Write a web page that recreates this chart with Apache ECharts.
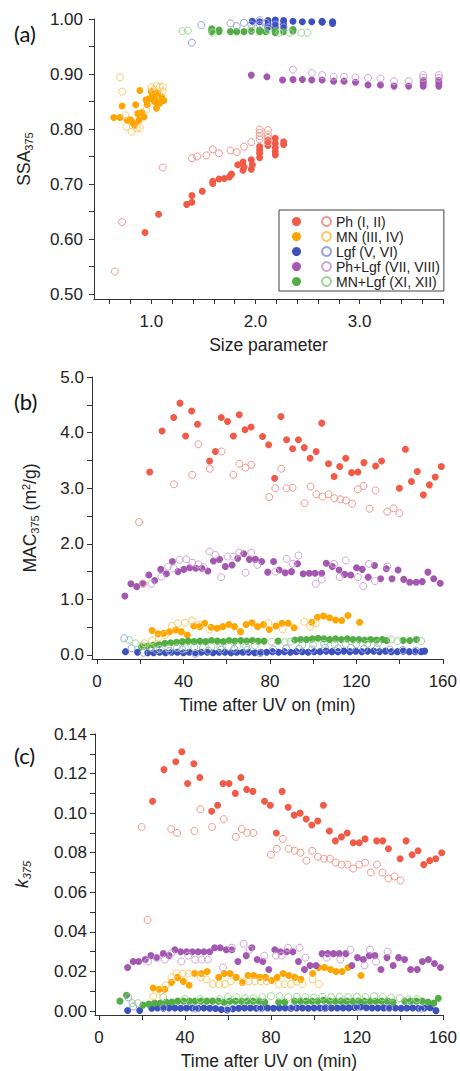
<!DOCTYPE html>
<html>
<head>
<meta charset="utf-8">
<script src="https://cdn.jsdelivr.net/npm/echarts@6.0.0/dist/echarts.min.js"></script>
<style>
  html, body { margin: 0; padding: 0; background: #fff; }
  #chart { width: 460px; height: 1071px; }
</style>
</head>
<body>
<div id="chart"></div>
<script>
// groups and colours
var groups = ['Ph (I, II)', 'MN (III, IV)', 'Lgf (V, VI)', 'Ph+Lgf (VII, VIII)', 'MN+Lgf (XI, XII)'];
var fillColors = ['#f05a46', '#ffa500', '#3c50be', '#a457b0', '#52ad45'];
var openColors = ['#f4978c', '#ffc866', '#9aa4e0', '#cfa6d6', '#9fd698'];

// (a) SSA vs size parameter  [size, SSA]
var aPhFill = [[0.94,0.612],[1.07,0.645],[1.34,0.663],[1.39,0.667],[1.39,0.679],[1.49,0.687],[1.59,0.701],[1.59,0.705],[1.65,0.709],[1.70,0.710],[1.75,0.713],[1.77,0.718],[1.83,0.735],[1.88,0.740],[1.88,0.725],[1.89,0.731],[1.96,0.744],[1.96,0.727],[1.97,0.735],[2.04,0.768],[2.04,0.756],[2.04,0.748],[2.04,0.762],[2.12,0.780],[2.12,0.776],[2.12,0.770],[2.19,0.783],[2.19,0.774],[2.19,0.766],[2.19,0.759],[2.19,0.753],[2.27,0.777],[2.27,0.772]];
var aPhOpen = [[0.65,0.541],[0.72,0.631],[1.11,0.730],[1.39,0.747],[1.44,0.750],[1.53,0.752],[1.59,0.763],[1.65,0.756],[1.76,0.761],[1.82,0.758],[1.89,0.768],[1.96,0.776],[2.04,0.799],[2.04,0.793],[2.04,0.787],[2.04,0.781],[2.12,0.798],[2.12,0.790],[2.12,0.784],[2.12,0.776]];
var aMnFill = [[0.64,0.821],[0.70,0.821],[0.72,0.842],[0.77,0.816],[0.80,0.817],[0.82,0.812],[0.84,0.807],[0.85,0.844],[0.87,0.828],[0.88,0.816],[0.89,0.870],[0.91,0.830],[0.93,0.822],[0.95,0.853],[0.96,0.844],[0.98,0.855],[1.00,0.868],[1.01,0.862],[1.03,0.857],[1.03,0.850],[1.05,0.838],[1.05,0.850],[1.06,0.866],[1.08,0.847],[1.10,0.858],[1.12,0.852]];
var aMnOpen = [[0.70,0.894],[0.72,0.868],[0.75,0.825],[0.76,0.804],[0.81,0.795],[0.86,0.801],[0.89,0.802],[0.95,0.835],[1.00,0.876],[1.02,0.871],[1.05,0.878],[1.08,0.876],[1.11,0.877],[1.11,0.868]];
var aLgfFill = [[1.97,0.996],[2.04,0.995],[2.12,0.997],[2.12,0.990],[2.12,0.985],[2.19,0.998],[2.19,0.991],[2.19,0.985],[2.27,0.997],[2.27,0.990],[2.27,0.984],[2.36,0.996],[2.45,0.995],[2.54,0.995],[2.64,0.994],[2.64,0.996],[2.74,0.995],[2.74,0.992]];
var aLgfOpen = [[1.39,0.957],[1.48,0.989],[1.76,0.992],[1.82,0.987],[1.89,0.993],[1.96,0.990],[2.04,0.998],[2.04,0.990],[2.10,0.993],[2.12,0.985],[2.19,0.990],[2.27,0.985]];
var aPhLgfFill = [[1.96,0.898],[2.11,0.895],[2.26,0.889],[2.36,0.890],[2.45,0.890],[2.54,0.889],[2.64,0.889],[2.75,0.887],[2.85,0.887],[2.96,0.885],[3.08,0.880],[3.20,0.880],[3.33,0.878],[3.47,0.878],[3.61,0.878],[3.61,0.883],[3.61,0.888],[3.76,0.878],[3.76,0.883],[3.76,0.888]];
var aPhLgfOpen = [[2.36,0.908],[2.54,0.902],[2.64,0.898],[2.75,0.895],[2.85,0.895],[2.96,0.894],[3.08,0.893],[3.20,0.892],[3.33,0.887],[3.47,0.887],[3.61,0.898],[3.61,0.893],[3.76,0.898],[3.76,0.893]];
var aMnLgfFill = [[1.58,0.982],[1.58,0.977],[1.65,0.980],[1.65,0.977],[1.76,0.977],[1.82,0.977],[1.89,0.977],[1.96,0.978],[2.04,0.977],[2.04,0.980],[2.10,0.977],[2.19,0.978],[2.19,0.975],[2.27,0.977],[2.36,0.978],[2.36,0.981]];
var aMnLgfOpen = [[1.30,0.978],[1.35,0.979],[1.59,0.975],[1.96,0.982],[2.12,0.980],[2.23,0.975],[2.33,0.975],[2.44,0.975],[2.50,0.975]];

// (b) MAC vs time  [min, m2/g]
var bPhFill = [[24.4,3.29],[30.1,4.03],[35.5,4.27],[38.4,4.53],[41.0,3.94],[43.8,4.39],[46.5,4.15],[52.1,3.49],[54.8,3.66],[57.5,4.27],[60.4,4.20],[63.1,3.94],[65.8,4.32],[68.5,4.05],[71.3,4.10],[76.6,3.93],[79.4,3.78],[82.2,3.18],[85.1,4.29],[87.7,3.87],[90.5,3.71],[93.2,3.87],[95.9,3.73],[98.6,3.54],[101.4,3.66],[104.0,4.17],[107.1,3.44],[109.7,3.21],[112.3,3.39],[115.1,3.54],[117.8,3.28],[120.7,3.29],[123.5,3.46],[128.9,3.40],[131.7,3.49],[139.9,3.00],[142.7,3.70],[145.5,3.12],[148.2,3.30],[151.0,2.88],[153.8,3.06],[156.5,3.20],[159.3,3.39]];
var bPhOpen = [[19.5,2.39],[21.4,1.28],[35.6,3.07],[44.1,3.24],[46.9,3.79],[52.2,3.35],[57.6,3.66],[63.1,3.24],[65.9,3.44],[68.7,3.37],[71.4,3.42],[79.7,2.84],[82.5,3.00],[85.3,3.35],[87.7,3.00],[90.5,3.01],[96.0,2.73],[98.8,3.03],[101.5,2.89],[104.3,2.85],[107.1,2.89],[109.8,2.82],[112.6,2.80],[115.2,2.78],[118.0,2.72],[120.7,2.98],[123.3,3.04],[126.1,2.63],[128.9,2.96],[134.3,2.58],[137.2,2.64],[139.9,2.55]];
var bMnFill = [[25.5,0.44],[28.3,0.38],[30.9,0.39],[33.6,0.42],[36.4,0.45],[39.0,0.42],[41.8,0.36],[44.8,0.52],[47.5,0.51],[49.8,0.57],[52.8,0.50],[55.6,0.48],[58.2,0.51],[61.0,0.55],[63.6,0.51],[66.4,0.42],[69.0,0.55],[71.7,0.58],[74.3,0.51],[77.0,0.55],[79.7,0.46],[82.8,0.52],[85.6,0.57],[88.5,0.57],[91.2,0.49],[99.4,0.59],[102.0,0.68],[104.8,0.70],[107.6,0.67],[110.4,0.63],[113.2,0.62],[116.1,0.71],[121.5,0.59]];
var bMnOpen = [[22.0,0.21],[25.5,0.26],[28.5,0.31],[31.5,0.36],[34.7,0.52],[37.5,0.57],[40.6,0.58],[43.9,0.62],[47.2,0.54],[52.1,0.46],[79.3,0.57],[85.9,0.46],[95.9,0.60],[98.6,0.51],[101.2,0.57]];
var bLgfFill = [[13.2,0.06],[18.8,0.05],[23.5,0.04],[26.2,0.04],[29.0,0.05],[31.7,0.04],[34.5,0.05],[37.2,0.05],[40.0,0.04],[42.7,0.05],[45.5,0.04],[48.2,0.05],[51.0,0.05],[53.7,0.04],[56.5,0.05],[59.2,0.05],[62.0,0.04],[64.7,0.05],[67.5,0.05],[70.2,0.05],[73.0,0.04],[75.7,0.05],[78.5,0.05],[81.2,0.06],[84.0,0.05],[86.7,0.06],[89.5,0.05],[92.2,0.06],[95.0,0.06],[97.7,0.05],[100.5,0.06],[103.2,0.06],[106.0,0.07],[108.7,0.06],[111.5,0.06],[114.2,0.07],[117.0,0.06],[119.7,0.07],[122.5,0.06],[125.2,0.07],[128.0,0.07],[130.7,0.06],[133.5,0.07],[136.2,0.06],[139.0,0.06],[141.7,0.07],[144.5,0.06],[147.2,0.06],[150.0,0.06],[151.6,0.07]];
var bLgfOpen = [[12.6,0.30],[16.0,0.12],[21.5,0.04],[27.5,0.09],[33.5,0.07],[39.5,0.10],[45.5,0.02],[51.5,0.08],[57.5,0.10],[63.5,0.11],[69.5,0.09],[75.5,0.03],[81.5,0.10],[87.5,0.12],[93.5,0.11],[99.5,0.10],[105.5,0.13],[111.5,0.12],[117.5,0.13],[123.5,0.11],[129.5,0.12],[135.5,0.10],[141.5,0.09],[147.5,0.08]];
var bPhLgfFill = [[12.9,1.06],[15.7,1.28],[18.4,1.23],[21.1,1.29],[24.0,1.44],[26.7,1.34],[29.5,1.54],[32.1,1.46],[34.9,1.68],[37.5,1.50],[40.2,1.54],[42.9,1.57],[45.7,1.56],[48.5,1.56],[51.3,1.51],[53.9,1.69],[56.7,1.72],[59.4,1.59],[62.5,1.62],[65.1,1.74],[67.9,1.82],[70.5,1.72],[73.3,1.72],[76.2,1.68],[79.0,1.49],[81.7,1.68],[84.3,1.53],[87.1,1.48],[90.0,1.50],[92.8,1.64],[95.4,1.46],[98.2,1.47],[100.9,1.47],[104.0,1.47],[106.1,1.65],[108.9,1.59],[112.0,1.53],[114.6,1.45],[117.4,1.44],[120.1,1.57],[122.7,1.54],[125.5,1.40],[128.4,1.61],[131.2,1.37],[133.9,1.55],[136.5,1.37],[139.3,1.53],[141.9,1.36],[144.7,1.31],[147.7,1.31],[150.5,1.32],[153.1,1.49],[155.8,1.37],[158.8,1.29]];
var bPhLgfOpen = [[25.2,1.28],[29.8,1.41],[32.9,1.59],[35.5,1.56],[38.2,1.71],[41.3,1.72],[44.1,1.66],[46.9,1.63],[49.3,1.58],[52.1,1.86],[54.8,1.80],[57.5,1.40],[60.4,1.77],[63.1,1.77],[65.8,1.84],[68.7,1.48],[71.3,1.84],[74.2,1.62],[82.5,1.50],[87.7,1.73],[90.5,1.64],[93.2,1.79],[101.2,1.28],[104.0,1.36],[109.7,1.64],[112.3,1.40],[115.1,1.70],[120.7,1.40],[123.2,1.24],[125.8,1.64],[128.6,1.33],[134.3,1.59]];
var bMnLgfFill = [[20.6,0.15],[23.3,0.16],[26.0,0.18],[28.7,0.19],[31.4,0.21],[34.1,0.22],[36.8,0.23],[39.5,0.24],[42.2,0.25],[44.9,0.24],[47.6,0.25],[50.3,0.24],[53.0,0.26],[55.7,0.25],[58.4,0.24],[61.1,0.26],[63.8,0.25],[66.5,0.26],[69.2,0.25],[71.9,0.26],[74.6,0.25],[77.3,0.25],[83.8,0.25],[91.5,0.27],[94.2,0.28],[96.9,0.28],[99.6,0.29],[102.3,0.30],[105.0,0.29],[107.7,0.28],[110.4,0.29],[113.1,0.28],[115.8,0.29],[118.5,0.28],[121.2,0.28],[123.9,0.27],[126.6,0.28],[129.3,0.27],[132.0,0.28],[134.0,0.26],[141.6,0.26],[144.7,0.26],[147.8,0.28]];
var bMnLgfOpen = [[14.9,0.27],[17.9,0.21],[21.0,0.17],[25.0,0.13],[29.0,0.11],[33.0,0.12],[37.0,0.13],[41.0,0.12],[45.0,0.14],[49.0,0.13],[53.0,0.15],[57.0,0.14],[61.0,0.15],[65.0,0.16],[69.0,0.15],[73.0,0.17],[80.7,0.24],[86.9,0.23],[89.5,0.24],[95.0,0.18],[100.0,0.19],[105.0,0.20],[110.0,0.19],[115.0,0.20],[120.0,0.19],[125.0,0.20],[130.0,0.21],[136.2,0.28],[139.0,0.25],[150.0,0.25]];

// (c) k vs time  [min, k]
var cPhFill = [[24.9,0.106],[30.2,0.122],[35.7,0.126],[38.5,0.131],[41.2,0.115],[44.1,0.125],[46.9,0.118],[52.4,0.101],[55.2,0.104],[57.7,0.115],[60.5,0.115],[63.4,0.110],[66.0,0.118],[68.7,0.112],[71.6,0.111],[77.0,0.106],[79.7,0.104],[82.5,0.090],[85.2,0.111],[88.0,0.103],[90.8,0.099],[93.6,0.100],[96.4,0.097],[99.0,0.094],[101.8,0.096],[104.4,0.104],[107.2,0.091],[110.0,0.086],[112.8,0.088],[115.5,0.090],[118.3,0.085],[121.1,0.085],[123.8,0.087],[129.2,0.086],[132.0,0.086],[134.7,0.082],[140.1,0.077],[142.9,0.086],[145.7,0.079],[148.5,0.081],[151.1,0.074],[153.9,0.076],[156.7,0.077],[159.5,0.080]];
var cPhOpen = [[19.8,0.093],[22.6,0.046],[33.6,0.092],[36.3,0.090],[44.4,0.091],[47.2,0.102],[52.6,0.093],[58.0,0.097],[63.6,0.088],[66.4,0.092],[69.0,0.090],[71.8,0.090],[80.0,0.079],[82.7,0.082],[85.5,0.087],[88.2,0.082],[91.0,0.081],[93.7,0.080],[96.5,0.076],[99.2,0.081],[101.9,0.078],[104.7,0.077],[107.4,0.077],[110.1,0.075],[112.9,0.074],[115.6,0.074],[118.3,0.072],[121.1,0.074],[123.8,0.075],[126.5,0.070],[129.3,0.074],[131.9,0.070],[134.7,0.067],[137.5,0.068],[140.3,0.066]];
var cMnFill = [[25.2,0.0116],[28.0,0.011],[30.6,0.011],[33.7,0.0145],[36.5,0.017],[39.2,0.015],[41.9,0.013],[44.5,0.019],[47.6,0.019],[50.3,0.020],[55.7,0.017],[58.3,0.019],[61.0,0.019],[63.8,0.017],[66.7,0.0144],[69.3,0.018],[72.0,0.018],[74.8,0.017],[77.5,0.017],[80.3,0.0154],[82.9,0.017],[85.7,0.019],[88.3,0.018],[91.1,0.017],[93.9,0.016],[99.4,0.019],[102.2,0.022],[104.9,0.022],[107.7,0.021],[110.3,0.020],[113.1,0.020],[115.9,0.022],[121.9,0.018]];
var cMnOpen = [[25.2,0.0074],[28.5,0.010],[31.0,0.013],[33.7,0.017],[36.1,0.019],[38.9,0.019],[41.6,0.019],[44.4,0.019],[47.3,0.017],[50.0,0.016],[53.0,0.0136],[55.8,0.0136],[58.6,0.0136],[61.4,0.015],[66.9,0.015],[69.7,0.015],[72.5,0.015],[75.3,0.015],[78.1,0.015],[83.6,0.0136],[86.4,0.0136],[89.2,0.0136],[91.9,0.015],[94.7,0.0136],[99.4,0.016],[102.2,0.0136]];
var cLgfFill = [[13.3,0.0003],[18.9,0.0003],[24.5,0.0014],[27.2,0.0015],[29.9,0.0014],[32.6,0.0015],[35.3,0.0015],[38.0,0.0014],[40.7,0.0015],[43.4,0.0015],[46.1,0.0014],[48.8,0.0015],[51.5,0.0014],[54.2,0.0013],[56.9,0.0008],[59.6,0.0005],[62.3,0.0012],[65.0,0.0014],[67.7,0.0015],[70.4,0.0015],[73.1,0.0014],[75.8,0.0015],[78.5,0.0015],[81.2,0.0014],[83.9,0.0015],[86.6,0.0015],[89.3,0.0014],[92.0,0.0015],[94.7,0.0015],[97.4,0.0014],[100.1,0.0015],[102.8,0.0015],[105.5,0.0016],[108.2,0.0015],[110.9,0.0015],[113.6,0.0016],[116.3,0.0016],[119.0,0.0018],[121.7,0.0020],[124.4,0.0017],[127.1,0.0015],[129.8,0.0015],[132.5,0.0016],[135.2,0.0015],[137.9,0.0015],[140.6,0.0014],[143.3,0.0015],[146.0,0.0015],[148.7,0.0014],[151.4,0.0015],[154.1,0.0017],[156.8,0.0002]];
var cLgfOpen = [[13.6,0.0069],[15.9,0.0023],[30.0,0.0018],[45.0,0.0012],[60.0,0.0010],[75.0,0.0015],[90.0,0.0018],[105.0,0.0015],[120.0,0.0020],[135.0,0.0015],[150.0,0.0012]];
var cPhLgfFill = [[13.3,0.022],[15.9,0.025],[18.4,0.025],[21.5,0.026],[24.1,0.028],[26.7,0.027],[29.9,0.029],[32.6,0.028],[35.3,0.031],[38.0,0.030],[40.7,0.030],[43.4,0.030],[46.1,0.030],[48.8,0.030],[51.5,0.030],[53.8,0.032],[56.4,0.032],[59.2,0.031],[61.8,0.031],[64.6,0.025],[68.5,0.028],[71.1,0.032],[73.6,0.026],[76.2,0.025],[79.0,0.021],[81.8,0.031],[84.4,0.030],[87.3,0.030],[90.2,0.030],[92.8,0.025],[95.6,0.021],[98.2,0.023],[101.0,0.023],[103.8,0.029],[106.4,0.029],[109.1,0.029],[111.8,0.029],[114.9,0.029],[117.7,0.023],[120.3,0.027],[123.0,0.026],[125.8,0.028],[128.4,0.028],[131.2,0.021],[134.0,0.027],[136.9,0.023],[139.4,0.027],[142.2,0.026],[145.0,0.021],[148.1,0.021],[150.5,0.025],[153.3,0.026],[156.1,0.024],[158.9,0.022]];
var cPhLgfOpen = [[22.9,0.025],[27.0,0.027],[30.6,0.026],[33.5,0.029],[38.3,0.025],[41.5,0.028],[44.7,0.026],[47.8,0.026],[50.6,0.026],[57.7,0.022],[61.8,0.032],[67.3,0.034],[70.0,0.031],[76.9,0.028],[82.3,0.028],[85.0,0.028],[87.9,0.032],[93.3,0.032],[96.0,0.027],[106.0,0.027],[112.3,0.026],[117.0,0.031],[123.6,0.023],[126.1,0.031],[128.9,0.025],[134.3,0.030]];
var cMnLgfFill = [[9.7,0.005],[12.8,0.008],[20.4,0.003],[23.1,0.0035],[25.8,0.004],[28.5,0.004],[31.2,0.0045],[33.9,0.0045],[36.6,0.005],[39.3,0.005],[42.0,0.005],[44.7,0.005],[47.4,0.005],[50.1,0.005],[52.8,0.005],[55.5,0.005],[58.2,0.0045],[60.9,0.005],[63.6,0.005],[66.3,0.005],[69.0,0.005],[71.7,0.005],[74.4,0.005],[77.1,0.0045],[83.6,0.0045],[86.5,0.0045],[91.0,0.005],[93.7,0.005],[96.4,0.005],[99.1,0.005],[101.8,0.005],[104.5,0.0055],[107.2,0.005],[109.9,0.005],[112.6,0.005],[115.3,0.005],[118.0,0.005],[120.7,0.005],[123.4,0.005],[126.1,0.005],[128.8,0.005],[131.5,0.005],[134.2,0.005],[136.9,0.0045],[142.3,0.005],[145.0,0.005],[147.7,0.005],[150.4,0.005],[153.1,0.0045],[155.8,0.004],[157.9,0.0065]];
var cMnLgfOpen = [[15.5,0.004],[18.0,0.004],[29.9,0.007],[40.0,0.006],[47.0,0.006],[56.0,0.006],[60.0,0.007],[64.0,0.007],[68.0,0.0065],[72.0,0.0065],[76.0,0.007],[80.0,0.0075],[84.0,0.0075],[88.0,0.007],[92.0,0.0072],[96.0,0.007],[100.0,0.0068],[104.0,0.0072],[108.0,0.007],[112.0,0.0072],[116.0,0.007],[120.0,0.0073],[124.0,0.007],[128.0,0.0075],[132.0,0.007],[136.0,0.0068],[140.0,0.0065],[144.0,0.006],[148.0,0.006]];

// tick labels
var aXLabels = [1, 2, 3];
var aYLabels = [0.5, 0.6, 0.7, 0.8, 0.9, 1.0];
var bXLabels = [0, 40, 80, 120, 160];
var bYLabels = [0, 1, 2, 3, 4, 5];
var cYLabels = [0, 0.02, 0.04, 0.06, 0.08, 0.10, 0.12, 0.14];

var panels = [
    [[aPhFill, aPhOpen], [aMnFill, aMnOpen], [aLgfFill, aLgfOpen], [aPhLgfFill, aPhLgfOpen], [aMnLgfFill, aMnLgfOpen]],
    [[bPhFill, bPhOpen], [bMnFill, bMnOpen], [bLgfFill, bLgfOpen], [bPhLgfFill, bPhLgfOpen], [bMnLgfFill, bMnLgfOpen]],
    [[cPhFill, cPhOpen], [cMnFill, cMnOpen], [cLgfFill, cLgfOpen], [cPhLgfFill, cPhLgfOpen], [cMnLgfFill, cMnLgfOpen]]
];

var font = '"Liberation Sans", Arial, sans-serif';
var axisColor = '#333';

// ticks between labels
function steps(from, to, step) {
    var out = [];
    for (var v = from; v <= to + step / 1000; v += step) out.push(Math.round(v * 10000) / 10000);
    return out;
}

function axis(o) {
    return {
        type: 'value',
        gridIndex: o.grid,
        min: o.min,
        max: o.max,
        name: o.name,
        nameLocation: 'middle',
        nameGap: o.nameGap,
        nameTextStyle: {
            fontSize: 17.5, fontFamily: font, color: '#222', fontStyle: o.italic ? 'italic' : 'normal',
            rich: {
                s: { fontSize: 11, fontFamily: font, color: '#222', fontStyle: o.italic ? 'italic' : 'normal', padding: [9, 0, 0, 0] },
                p: { fontSize: 11, fontFamily: font, color: '#222', padding: [0, 0, 9, 0] }
            }
        },
        axisLine: { show: true, onZero: false, lineStyle: { color: axisColor, width: 1 } },
        axisTick: { show: true, length: 5, customValues: o.ticks, lineStyle: { color: axisColor } },
        axisLabel: {
            customValues: o.labels, margin: o.margin, fontSize: 17, fontFamily: font, color: '#222',
            formatter: function (v) { return v.toFixed(o.dec); }
        },
        splitLine: { show: false }
    };
}

var xAxes = [
    axis({ grid: 0, min: 0.45, max: 3.8, name: 'Size parameter', nameGap: 37, ticks: steps(0.6, 3.8, 0.2), labels: aXLabels, dec: 1, margin: 14 }),
    axis({ grid: 1, min: -2.3, max: 160, name: 'Time after UV on (min)', nameGap: 37, ticks: steps(0, 160, 20), labels: bXLabels, dec: 0, margin: 14 }),
    axis({ grid: 2, min: -1.9, max: 160, name: 'Time after UV on (min)', nameGap: 37, ticks: steps(0, 160, 20), labels: bXLabels, dec: 0, margin: 14 })
];
var yAxes = [
    axis({ grid: 0, min: 0.491, max: 1.0, name: 'SSA{s|375}', nameGap: 60, ticks: steps(0.5, 1.0, 0.05), labels: aYLabels, dec: 2, margin: 11 }),
    axis({ grid: 1, min: -0.072, max: 5.0, name: 'MAC{s|375} (m{p|2}/g)', nameGap: 52, ticks: steps(0, 5, 0.5), labels: bYLabels, dec: 1, margin: 8 }),
    axis({ grid: 2, min: -0.002, max: 0.14, name: 'k{s|375}', nameGap: 63, italic: true, ticks: steps(0, 0.14, 0.01), labels: cYLabels, dec: 2, margin: 8 })
];

var series = [];
for (var p = 0; p < panels.length; p++) {
    for (var g = 0; g < groups.length; g++) {
        series.push({
            type: 'scatter', name: groups[g], xAxisIndex: p, yAxisIndex: p,
            data: panels[p][g][0], symbol: 'circle', symbolSize: 7,
            itemStyle: { color: fillColors[g], opacity: 1 }
        });
    }
    for (var g = 0; g < groups.length; g++) {
        series.push({
            type: 'scatter', name: groups[g] + ' o', xAxisIndex: p, yAxisIndex: p,
            data: panels[p][g][1], symbol: 'circle', symbolSize: 7,
            itemStyle: { color: 'rgba(255,255,255,0)', borderColor: openColors[g], borderWidth: 1, opacity: 1 }
        });
    }
}

var chart = echarts.init(document.getElementById('chart'), null, { renderer: 'svg' });
chart.setOption({
    animation: false,
    backgroundColor: '#fff',
    grid: [
        { left: 94, top: 19, width: 349, height: 280 },
        { left: 92, top: 377, width: 351, height: 282 },
        { left: 95, top: 734, width: 348, height: 283 }
    ],
    xAxis: xAxes,
    yAxis: yAxes,
    legend: [{
        data: groups.map(function (n) { return { name: n + ' o', icon: 'circle' }; }),
        orient: 'vertical', left: 279, top: 210, z: 4,
        padding: [4, 4, 2, 42], itemGap: 0, itemWidth: 9, itemHeight: 9, itemTextGap: 9,
        borderColor: '#444', borderWidth: 1, backgroundColor: '#fff',
        selectedMode: false,
        textStyle: { fontSize: 14, lineHeight: 15, fontFamily: font, color: '#222' },
        formatter: function (n) { return n.slice(0, -2); }
    }, {
        data: groups.map(function (n) { return { name: n, icon: 'circle' }; }),
        orient: 'vertical', left: 292, top: 214, z: 6,
        padding: 0, itemGap: 0, itemWidth: 9, itemHeight: 9,
        selectedMode: false,
        textStyle: { fontSize: 14, lineHeight: 15, fontFamily: font },
        formatter: function () { return ' '; }
    }],
    graphic: [
        { type: 'text', left: 14, top: 22, style: { text: '(a)', font: '22px Lato, sans-serif', fill: '#111' } },
        { type: 'text', left: 14, top: 390, style: { text: '(b)', font: '22px Lato, sans-serif', fill: '#111' } },
        { type: 'text', left: 14, top: 744, style: { text: '(c)', font: '22px Lato, sans-serif', fill: '#111' } }
    ],
    series: series
});
</script>
</body>
</html>
